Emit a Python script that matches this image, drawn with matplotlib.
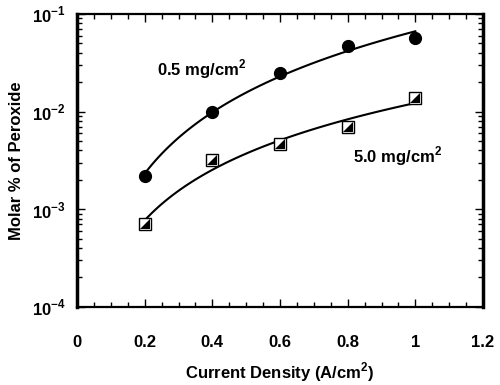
import numpy as np
import matplotlib
matplotlib.use("Agg")
import matplotlib.pyplot as plt
from matplotlib.path import Path
from matplotlib.ticker import FixedLocator, LogLocator, FuncFormatter, NullFormatter

plt.rcParams['font.family'] = ['Liberation Sans', 'DejaVu Sans']
plt.rcParams['font.weight'] = 'bold'
plt.rcParams['mathtext.fontset'] = 'custom'
plt.rcParams['mathtext.rm'] = 'Liberation Sans:bold'
plt.rcParams['mathtext.bf'] = 'Liberation Sans:bold'

# current density (A/cm2)
current = [0.2, 0.4, 0.6, 0.8, 1.0]
# molar % peroxide, 0.5 mg/cm2 loading
low_loading = [2.2e-3, 9.9e-3, 2.5e-2, 4.7e-2, 5.6e-2]
# molar % peroxide, 5.0 mg/cm2 loading
high_loading = [7.1e-4, 3.2e-3, 4.6e-3, 7.0e-3, 1.37e-2]

x_ticks = [0, 0.2, 0.4, 0.6, 0.8, 1.0, 1.2]
x_labels = ['0', '0.2', '0.4', '0.6', '0.8', '1', '1.2']


def power_fit(x, y):
    # least squares fit of log y on log x (trend line through the points)
    b, a = np.polyfit(np.log10(x), np.log10(y), 1)
    xs = np.linspace(min(x), max(x), 100)
    return xs, 10 ** (a + b * np.log10(xs))


# half filled square: lower right triangle black
tri = Path([(-1, -1), (1, -1), (1, 1), (-1, -1)],
           [Path.MOVETO, Path.LINETO, Path.LINETO, Path.CLOSEPOLY])

fig = plt.figure(figsize=(5.0, 3.85), dpi=100)
ax = fig.add_axes([0.154, 0.203, 0.812, 0.761])

xs, ys = power_fit(current, low_loading)
ax.plot(xs, ys, color='black', lw=1.5)
xs, ys = power_fit(current, high_loading)
ax.plot(xs, ys, color='black', lw=1.5)

ax.plot(current, low_loading, 'o', color='black', ms=8.5, zorder=3)
ax.plot(current, high_loading, 's', mfc='white', mec='black', ms=8.5, mew=1.0, zorder=3)
ax.plot(current, high_loading, marker=tri, ls='none', color='black', ms=7.9, mew=0, zorder=4)

ax.text(0.236, 0.0274, r'0.5 mg/cm$^2$', fontsize=12, fontweight='bold', va='center')
ax.text(0.815, 0.00346, r'5.0 mg/cm$^2$', fontsize=12, fontweight='bold', va='center')

ax.set_yscale('log')
ax.set_xlim(0, 1.2)
ax.set_ylim(1e-4, 1e-1)

ax.xaxis.set_major_locator(FixedLocator(x_ticks))
ax.set_xticklabels(x_labels)
ax.xaxis.set_minor_locator(FixedLocator(np.arange(0, 1.2001, 0.05)))
ax.yaxis.set_major_locator(LogLocator(base=10, numticks=10))
ax.yaxis.set_minor_locator(LogLocator(base=10, subs=np.arange(2, 10), numticks=20))
ax.yaxis.set_minor_formatter(NullFormatter())
ax.yaxis.set_major_formatter(FuncFormatter(lambda v, p: r'$10^{%d}$' % round(np.log10(v))))

ax.tick_params(which='both', direction='in', top=True, right=True, width=1)
ax.tick_params(which='major', length=6, labelsize=12)
ax.tick_params(which='minor', length=3.5)
ax.tick_params(axis='x', which='major', pad=20)
ax.tick_params(axis='y', which='major', pad=8)

for side in ['left', 'right']:
    ax.spines[side].set_linewidth(2.5)
for side in ['top', 'bottom']:
    ax.spines[side].set_linewidth(1.6)

ax.set_xlabel(r'Current Density (A/cm$^2$)', fontsize=12, fontweight='bold', labelpad=8)
ax.set_ylabel('Molar % of Peroxide', fontsize=12, fontweight='bold', labelpad=6)

fig.savefig('out.png', dpi=100)
